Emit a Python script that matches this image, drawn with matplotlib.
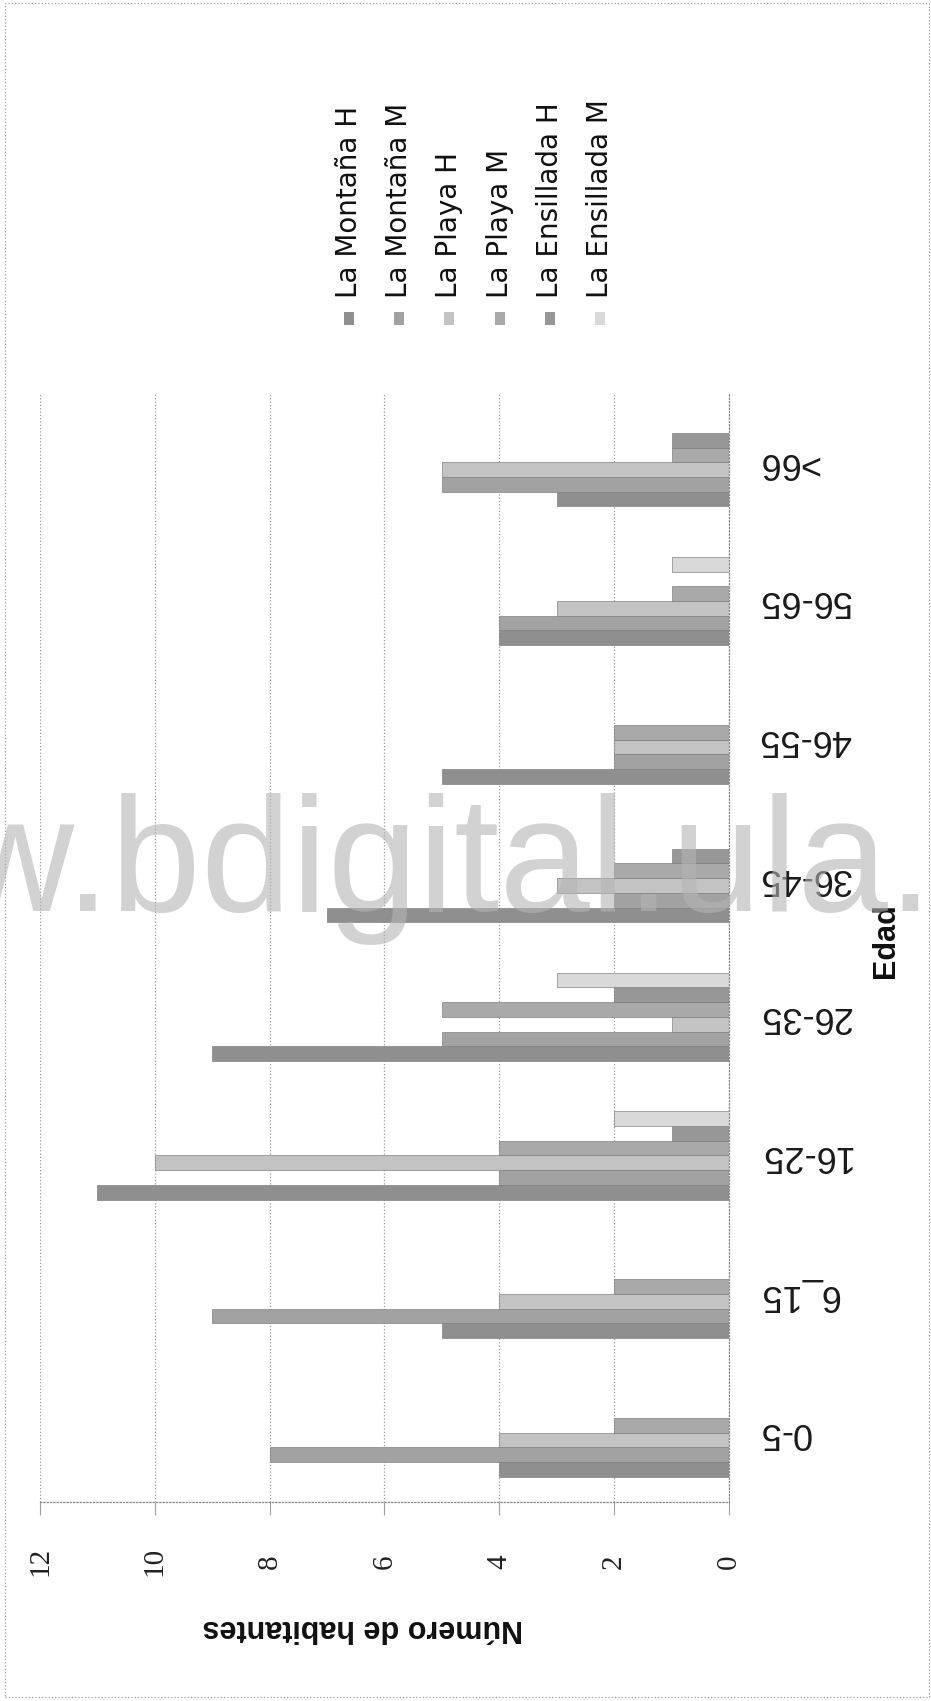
import matplotlib
matplotlib.use("Agg")
import matplotlib.pyplot as plt
import matplotlib.patches as mpatches


# Datos: habitantes por grupo de edad y sector

edades = ["0-5", "6_15", "16-25", "26-35", "36-45", "46-55", "56-65", ">66"]

series = ["La Montaña H", "La Montaña M", "La Playa H",
          "La Playa M", "La Ensillada H", "La Ensillada M"]

montana_h   = [4, 5, 11, 9, 7, 5, 4, 3]
montana_m   = [8, 9, 4, 5, 2, 2, 4, 5]
playa_h     = [4, 4, 10, 1, 3, 2, 3, 5]
playa_m     = [2, 2, 4, 5, 2, 2, 1, 1]
ensillada_h = [0, 0, 1, 2, 1, 0, 0, 1]
ensillada_m = [0, 0, 2, 3, 0, 0, 1, 0]

valores_eje = [0, 2, 4, 6, 8, 10, 12]

colores = ["#8f8f8f", "#a2a2a2", "#c3c3c3", "#a9a9a9", "#979797", "#d9d9d9"]


# Figura (pagina escaneada en vertical)

W, H = 931, 1701
fig = plt.figure(figsize=(W / 100, H / 100), dpi=100)
fig.patch.set_facecolor("white")

# marco punteado de la pagina
marco = mpatches.Rectangle((5 / W, 4 / H), 924 / W, 1694 / H,
                           transform=fig.transFigure, fill=False,
                           edgecolor="#a0a0a0", linestyle=":", linewidth=0.9)
fig.patches.append(marco)

ax = fig.add_axes([40 / W, 1 - 1502 / H, 689 / W, 1109 / H])

datos = [montana_h, montana_m, playa_h, playa_m, ensillada_h, ensillada_m]
alto = 0.106

for i in range(len(datos)):
    pos = []
    for k in range(len(edades)):
        pos.append(k + (i - 2.5) * alto)
    ax.barh(pos, datos[i], height=alto, color=colores[i],
            edgecolor="#7a7a7a", linewidth=0.45, zorder=2)

ax.set_xlim(12, 0)
ax.set_ylim(-0.5, len(edades) - 0.5)

# rejilla punteada
ax.set_xticks(valores_eje)
ax.grid(axis="x", linestyle=":", color="#9a9a9a", linewidth=0.9, zorder=0)
for lado in ["left", "top"]:
    ax.spines[lado].set_visible(False)
for lado in ["right", "bottom"]:
    ax.spines[lado].set_linestyle(":")
    ax.spines[lado].set_color("#8a8a8a")
    ax.spines[lado].set_linewidth(0.9)

# etiquetas del eje de valores, giradas
ax.tick_params(axis="x", length=9, width=0.8, color="#a0a0a0", pad=34)
ax.set_xticklabels([str(v) for v in valores_eje])
for lbl in ax.get_xticklabels():
    lbl.set_rotation(90)
    lbl.set_va("center")
    lbl.set_ha("center")
    lbl.set_fontfamily("Liberation Serif")
    lbl.set_fontsize(21)
    lbl.set_color("#222222")

# etiquetas de edad a la derecha, invertidas
ax.set_yticks(range(len(edades)))
ax.set_yticklabels(edades)
ax.yaxis.tick_right()
ax.tick_params(axis="y", length=0, pad=21)
for lbl in ax.get_yticklabels():
    lbl.set_rotation(180)
    lbl.set_va("center")
    lbl.set_fontfamily("Liberation Sans")
    lbl.set_fontsize(26)
    lbl.set_color("#1a1a1a")

# titulos de los ejes
fig.text(363 / W, 1 - 1628 / H, "Número de habitantes", rotation=180,
         ha="center", va="center", fontsize=22, fontweight="bold",
         family="Liberation Sans", color="#111111")
fig.text(886 / W, 1 - 941 / H, "Edad", rotation=90,
         ha="center", va="center", fontsize=22, fontweight="bold",
         family="Liberation Sans", color="#111111")

# leyenda vertical
for i in range(len(series)):
    x = 349 + 50.2 * i
    caja = mpatches.Rectangle(((x - 5) / W, 1 - 325 / H), 10 / W, 13 / H,
                              transform=fig.transFigure,
                              facecolor=colores[i], edgecolor="none")
    fig.patches.append(caja)
    fig.text(x / W, 1 - 298 / H, series[i], rotation=90,
             ha="center", va="bottom", fontsize=20,
             family="DejaVu Sans", color="#111111")

# marca de agua del repositorio
fig.text(-278 / W, 1 - 911 / H, "www.bdigital.ula.ve",
         ha="left", va="baseline", fontsize=117,
         family="Liberation Sans", color="#b4b4b4", alpha=0.6, zorder=10)

plt.savefig("out.png", dpi=100, facecolor=fig.get_facecolor())
